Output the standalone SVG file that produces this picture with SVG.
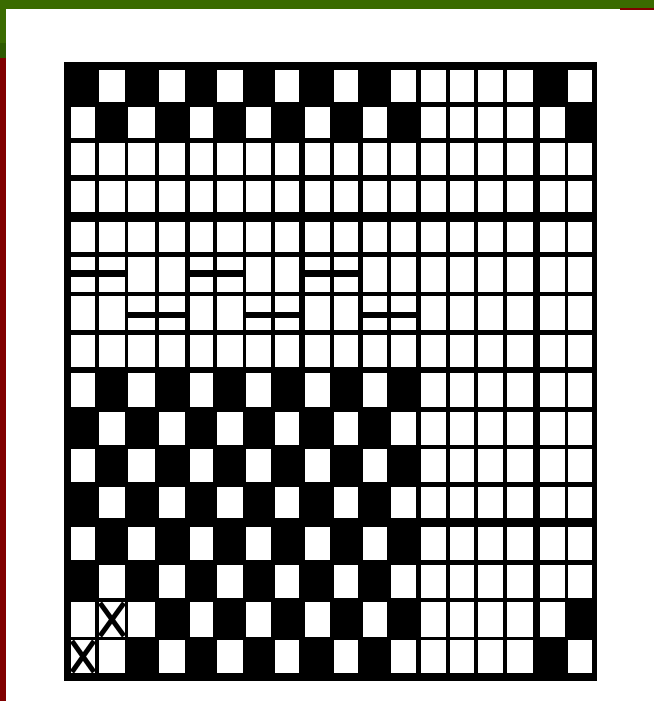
<svg xmlns="http://www.w3.org/2000/svg" width="654" height="701" viewBox="0 0 654 701">
<style>
.w rect{fill:#fff}
.x line{stroke:#000;stroke-width:5;stroke-linecap:butt}
</style>
<rect width="654" height="701" fill="#fff"/>
<g id="frame">
<rect x="0" y="0" width="654" height="9" fill="#3a6b00"/>
<rect x="0" y="0" width="6" height="43" fill="#3a6b00"/>
<rect x="0" y="43" width="6" height="15" fill="#2e5a00"/>
<rect x="0" y="58" width="6" height="643" fill="#800000"/>
<rect x="620" y="8" width="34" height="2" fill="#800000"/>
</g>
<g id="grid">
<rect x="64" y="62" width="533" height="619" fill="#000"/>
<g id="row1" class="w">
<rect x="99" y="70" width="26" height="32"/><rect x="159" y="70" width="26" height="32"/><rect x="217" y="70" width="26" height="32"/><rect x="275" y="70" width="24" height="32"/><rect x="334" y="70" width="24" height="32"/><rect x="391" y="70" width="25" height="32"/><rect x="421" y="70" width="25" height="32"/><rect x="450" y="70" width="24" height="32"/><rect x="478" y="70" width="25" height="32"/><rect x="507" y="70" width="26" height="32"/><rect x="568" y="70" width="24" height="32"/>
</g>
<g id="row2" class="w">
<rect x="71" y="107" width="24" height="31"/><rect x="128" y="107" width="27" height="31"/><rect x="190" y="107" width="23" height="31"/><rect x="246" y="107" width="25" height="31"/><rect x="305" y="107" width="25" height="31"/><rect x="363" y="107" width="24" height="31"/><rect x="421" y="107" width="25" height="31"/><rect x="450" y="107" width="24" height="31"/><rect x="478" y="107" width="25" height="31"/><rect x="507" y="107" width="26" height="31"/><rect x="540" y="107" width="25" height="31"/>
</g>
<g id="row3" class="w">
<rect x="71" y="143" width="24" height="32"/><rect x="99" y="143" width="26" height="32"/><rect x="128" y="143" width="27" height="32"/><rect x="159" y="143" width="26" height="32"/><rect x="190" y="143" width="23" height="32"/><rect x="217" y="143" width="26" height="32"/><rect x="246" y="143" width="25" height="32"/><rect x="275" y="143" width="24" height="32"/><rect x="305" y="143" width="25" height="32"/><rect x="334" y="143" width="24" height="32"/><rect x="363" y="143" width="24" height="32"/><rect x="391" y="143" width="25" height="32"/><rect x="421" y="143" width="25" height="32"/><rect x="450" y="143" width="24" height="32"/><rect x="478" y="143" width="25" height="32"/><rect x="507" y="143" width="26" height="32"/><rect x="540" y="143" width="25" height="32"/><rect x="568" y="143" width="24" height="32"/>
</g>
<g id="row4" class="w">
<rect x="71" y="181" width="24" height="31"/><rect x="99" y="181" width="26" height="31"/><rect x="128" y="181" width="27" height="31"/><rect x="159" y="181" width="26" height="31"/><rect x="190" y="181" width="23" height="31"/><rect x="217" y="181" width="26" height="31"/><rect x="246" y="181" width="25" height="31"/><rect x="275" y="181" width="24" height="31"/><rect x="305" y="181" width="25" height="31"/><rect x="334" y="181" width="24" height="31"/><rect x="363" y="181" width="24" height="31"/><rect x="391" y="181" width="25" height="31"/><rect x="421" y="181" width="25" height="31"/><rect x="450" y="181" width="24" height="31"/><rect x="478" y="181" width="25" height="31"/><rect x="507" y="181" width="26" height="31"/><rect x="540" y="181" width="25" height="31"/><rect x="568" y="181" width="24" height="31"/>
</g>
<g id="row5" class="w">
<rect x="71" y="222" width="24" height="30"/><rect x="99" y="222" width="26" height="30"/><rect x="128" y="222" width="27" height="30"/><rect x="159" y="222" width="26" height="30"/><rect x="190" y="222" width="23" height="30"/><rect x="217" y="222" width="26" height="30"/><rect x="246" y="222" width="25" height="30"/><rect x="275" y="222" width="24" height="30"/><rect x="305" y="222" width="25" height="30"/><rect x="334" y="222" width="24" height="30"/><rect x="363" y="222" width="24" height="30"/><rect x="391" y="222" width="25" height="30"/><rect x="421" y="222" width="25" height="30"/><rect x="450" y="222" width="24" height="30"/><rect x="478" y="222" width="25" height="30"/><rect x="507" y="222" width="26" height="30"/><rect x="540" y="222" width="25" height="30"/><rect x="568" y="222" width="24" height="30"/>
</g>
<g id="row6" class="w">
<rect x="71" y="257" width="24" height="13"/><rect x="71" y="277" width="24" height="15"/>
<rect x="99" y="257" width="26" height="13"/><rect x="99" y="277" width="26" height="15"/>
<rect x="128" y="257" width="27" height="35"/><rect x="159" y="257" width="26" height="35"/>
<rect x="190" y="257" width="23" height="13"/><rect x="190" y="277" width="23" height="15"/>
<rect x="217" y="257" width="26" height="13"/><rect x="217" y="277" width="26" height="15"/>
<rect x="246" y="257" width="25" height="35"/><rect x="275" y="257" width="24" height="35"/>
<rect x="305" y="257" width="25" height="13"/><rect x="305" y="277" width="25" height="15"/>
<rect x="334" y="257" width="24" height="13"/><rect x="334" y="277" width="24" height="15"/>
<rect x="363" y="257" width="24" height="35"/><rect x="391" y="257" width="25" height="35"/><rect x="421" y="257" width="25" height="35"/><rect x="450" y="257" width="24" height="35"/><rect x="478" y="257" width="25" height="35"/><rect x="507" y="257" width="26" height="35"/><rect x="540" y="257" width="25" height="35"/><rect x="568" y="257" width="24" height="35"/>
</g>
<g id="row7" class="w">
<rect x="71" y="296" width="24" height="34"/><rect x="99" y="296" width="26" height="34"/>
<rect x="128" y="296" width="27" height="16"/><rect x="128" y="318" width="27" height="12"/>
<rect x="159" y="296" width="26" height="16"/><rect x="159" y="318" width="26" height="12"/>
<rect x="190" y="296" width="23" height="34"/><rect x="217" y="296" width="26" height="34"/>
<rect x="246" y="296" width="25" height="16"/><rect x="246" y="318" width="25" height="12"/>
<rect x="275" y="296" width="24" height="16"/><rect x="275" y="318" width="24" height="12"/>
<rect x="305" y="296" width="25" height="34"/><rect x="334" y="296" width="24" height="34"/>
<rect x="363" y="296" width="24" height="16"/><rect x="363" y="318" width="24" height="12"/>
<rect x="391" y="296" width="25" height="16"/><rect x="391" y="318" width="25" height="12"/>
<rect x="421" y="296" width="25" height="34"/><rect x="450" y="296" width="24" height="34"/><rect x="478" y="296" width="25" height="34"/><rect x="507" y="296" width="26" height="34"/><rect x="540" y="296" width="25" height="34"/><rect x="568" y="296" width="24" height="34"/>
</g>
<g id="row8" class="w">
<rect x="71" y="335" width="24" height="32"/><rect x="99" y="335" width="26" height="32"/><rect x="128" y="335" width="27" height="32"/><rect x="159" y="335" width="26" height="32"/><rect x="190" y="335" width="23" height="32"/><rect x="217" y="335" width="26" height="32"/><rect x="246" y="335" width="25" height="32"/><rect x="275" y="335" width="24" height="32"/><rect x="305" y="335" width="25" height="32"/><rect x="334" y="335" width="24" height="32"/><rect x="363" y="335" width="24" height="32"/><rect x="391" y="335" width="25" height="32"/><rect x="421" y="335" width="25" height="32"/><rect x="450" y="335" width="24" height="32"/><rect x="478" y="335" width="25" height="32"/><rect x="507" y="335" width="26" height="32"/><rect x="540" y="335" width="25" height="32"/><rect x="568" y="335" width="24" height="32"/>
</g>
<g id="row9" class="w">
<rect x="71" y="373" width="24" height="34"/><rect x="128" y="373" width="27" height="34"/><rect x="190" y="373" width="23" height="34"/><rect x="246" y="373" width="25" height="34"/><rect x="305" y="373" width="25" height="34"/><rect x="363" y="373" width="24" height="34"/><rect x="421" y="373" width="25" height="34"/><rect x="450" y="373" width="24" height="34"/><rect x="478" y="373" width="25" height="34"/><rect x="507" y="373" width="26" height="34"/><rect x="540" y="373" width="25" height="34"/><rect x="568" y="373" width="24" height="34"/>
</g>
<g id="row10" class="w">
<rect x="99" y="412" width="26" height="33"/><rect x="159" y="412" width="26" height="33"/><rect x="217" y="412" width="26" height="33"/><rect x="275" y="412" width="24" height="33"/><rect x="334" y="412" width="24" height="33"/><rect x="391" y="412" width="25" height="33"/><rect x="421" y="412" width="25" height="33"/><rect x="450" y="412" width="24" height="33"/><rect x="478" y="412" width="25" height="33"/><rect x="507" y="412" width="26" height="33"/><rect x="540" y="412" width="25" height="33"/><rect x="568" y="412" width="24" height="33"/>
</g>
<g id="row11" class="w">
<rect x="71" y="449" width="24" height="33"/><rect x="128" y="449" width="27" height="33"/><rect x="190" y="449" width="23" height="33"/><rect x="246" y="449" width="25" height="33"/><rect x="305" y="449" width="25" height="33"/><rect x="363" y="449" width="24" height="33"/><rect x="421" y="449" width="25" height="33"/><rect x="450" y="449" width="24" height="33"/><rect x="478" y="449" width="25" height="33"/><rect x="507" y="449" width="26" height="33"/><rect x="540" y="449" width="25" height="33"/><rect x="568" y="449" width="24" height="33"/>
</g>
<g id="row12" class="w">
<rect x="99" y="487" width="26" height="31"/><rect x="159" y="487" width="26" height="31"/><rect x="217" y="487" width="26" height="31"/><rect x="275" y="487" width="24" height="31"/><rect x="334" y="487" width="24" height="31"/><rect x="391" y="487" width="25" height="31"/><rect x="421" y="487" width="25" height="31"/><rect x="450" y="487" width="24" height="31"/><rect x="478" y="487" width="25" height="31"/><rect x="507" y="487" width="26" height="31"/><rect x="540" y="487" width="25" height="31"/><rect x="568" y="487" width="24" height="31"/>
</g>
<g id="row13" class="w">
<rect x="71" y="527" width="24" height="33"/><rect x="128" y="527" width="27" height="33"/><rect x="190" y="527" width="23" height="33"/><rect x="246" y="527" width="25" height="33"/><rect x="305" y="527" width="25" height="33"/><rect x="363" y="527" width="24" height="33"/><rect x="421" y="527" width="25" height="33"/><rect x="450" y="527" width="24" height="33"/><rect x="478" y="527" width="25" height="33"/><rect x="507" y="527" width="26" height="33"/><rect x="540" y="527" width="25" height="33"/><rect x="568" y="527" width="24" height="33"/>
</g>
<g id="row14" class="w">
<rect x="99" y="565" width="26" height="33"/><rect x="159" y="565" width="26" height="33"/><rect x="217" y="565" width="26" height="33"/><rect x="275" y="565" width="24" height="33"/><rect x="334" y="565" width="24" height="33"/><rect x="391" y="565" width="25" height="33"/><rect x="421" y="565" width="25" height="33"/><rect x="450" y="565" width="24" height="33"/><rect x="478" y="565" width="25" height="33"/><rect x="507" y="565" width="26" height="33"/><rect x="540" y="565" width="25" height="33"/><rect x="568" y="565" width="24" height="33"/>
</g>
<g id="row15" class="w">
<rect x="71" y="602" width="24" height="35"/><rect x="99" y="602" width="26" height="35"/><rect x="128" y="602" width="27" height="35"/><rect x="190" y="602" width="23" height="35"/><rect x="246" y="602" width="25" height="35"/><rect x="305" y="602" width="25" height="35"/><rect x="363" y="602" width="24" height="35"/><rect x="421" y="602" width="25" height="35"/><rect x="450" y="602" width="24" height="35"/><rect x="478" y="602" width="25" height="35"/><rect x="507" y="602" width="26" height="35"/><rect x="540" y="602" width="25" height="35"/>
</g>
<g id="row16" class="w">
<rect x="71" y="640" width="24" height="33"/><rect x="99" y="640" width="26" height="33"/><rect x="159" y="640" width="26" height="33"/><rect x="217" y="640" width="26" height="33"/><rect x="275" y="640" width="24" height="33"/><rect x="334" y="640" width="24" height="33"/><rect x="391" y="640" width="25" height="33"/><rect x="421" y="640" width="25" height="33"/><rect x="450" y="640" width="24" height="33"/><rect x="478" y="640" width="25" height="33"/><rect x="507" y="640" width="26" height="33"/><rect x="568" y="640" width="24" height="33"/>
</g>
<g id="marks" class="x">
<line x1="100" y1="603" x2="124" y2="636"/><line x1="124" y1="603" x2="100" y2="636"/>
<line x1="72" y1="641" x2="94" y2="672"/><line x1="94" y1="641" x2="72" y2="672"/>
</g>
</g>
</svg>
